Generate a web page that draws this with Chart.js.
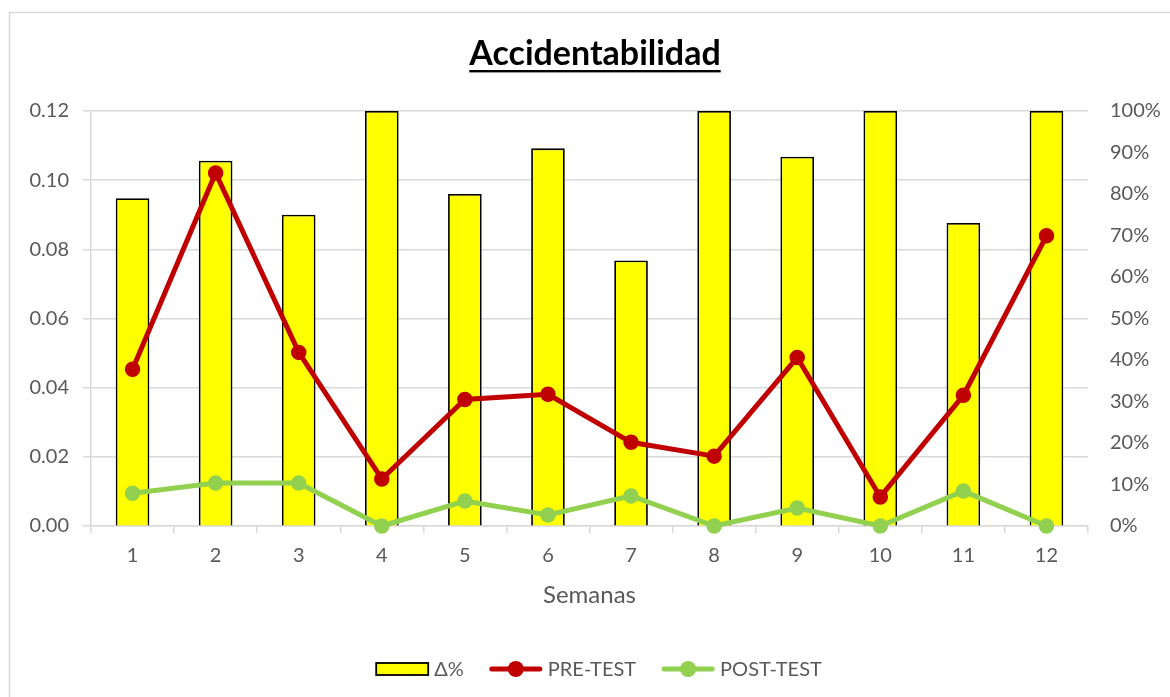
<!DOCTYPE html>
<html>
<head>
<meta charset="utf-8">
<script src="https://cdn.jsdelivr.net/npm/chart.js@4.4.1/dist/chart.umd.min.js"></script>
<style>
  html, body { margin: 0; padding: 0; background: #fff; }
  #wrap { width: 1170px; height: 697px; }
</style>
</head>
<body>
<div id="wrap"><canvas id="chart" width="1170" height="697"></canvas></div>
<script>
const weeks = ["1", "2", "3", "4", "5", "6", "7", "8", "9", "10", "11", "12"];
const deltaPct = [0.79, 0.88, 0.75, 1.0, 0.80, 0.91, 0.64, 1.0, 0.89, 1.0, 0.73, 1.0];
const preTest = [0.0453, 0.1021, 0.0502, 0.0136, 0.0366, 0.0381, 0.0242, 0.0202, 0.0487, 0.0084, 0.0378, 0.0839];
const postTest = [0.0095, 0.0124, 0.0124, 0, 0.0072, 0.0032, 0.0087, 0, 0.0052, 0, 0.0101, 0];

const FONT = "Lato, 'Open Sans', sans-serif";
const TEXT = "#595959";
const GRID = "#D9D9D9";

// frame, underlined title and the Excel-style legend
const decor = {
  id: "decor",
  beforeDraw(chart) {
    const ctx = chart.ctx;
    ctx.save();
    ctx.fillStyle = "#fff";
    ctx.fillRect(0, 0, chart.width, chart.height);
    ctx.strokeStyle = GRID;
    ctx.lineWidth = 1.5;
    ctx.strokeRect(9.5, 12.5, 1300, 800);
    ctx.restore();
  },
  afterDraw(chart) {
    const ctx = chart.ctx;
    ctx.save();
    // title
    ctx.font = "bold 34px " + FONT;
    ctx.fillStyle = "#000";
    ctx.textAlign = "center";
    ctx.textBaseline = "alphabetic";
    const title = "Accidentabilidad";
    const tw = ctx.measureText(title).width;
    const cx = 595;
    ctx.fillText(title, cx, 65);
    ctx.fillRect(cx - tw / 2, 70, tw, 2.4);

    // legend
    const ds = chart.data.datasets;
    ctx.font = "20px " + FONT;
    ctx.textAlign = "left";
    ctx.textBaseline = "middle";
    const y = 669;
    const sym = 52, gapTxt = 6, gapItem = 26;
    let total = 0;
    ds.forEach((d, i) => {
      total += sym + gapTxt + ctx.measureText(d.label).width;
      if (i < ds.length - 1) total += gapItem;
    });
    let x = 599 - total / 2;
    ds.forEach((d) => {
      if (d.type === "bar") {
        ctx.fillStyle = d.backgroundColor;
        ctx.fillRect(x, y - 6, sym, 12);
        ctx.strokeStyle = d.borderColor;
        ctx.lineWidth = 1.8;
        ctx.strokeRect(x, y - 6, sym, 12);
      } else {
        ctx.strokeStyle = d.borderColor;
        ctx.lineWidth = 5;
        ctx.lineCap = "round";
        ctx.beginPath();
        ctx.moveTo(x + 2, y);
        ctx.lineTo(x + sym - 2, y);
        ctx.stroke();
        ctx.fillStyle = d.borderColor;
        ctx.beginPath();
        ctx.arc(x + sym / 2, y, 8, 0, Math.PI * 2);
        ctx.fill();
      }
      x += sym + gapTxt;
      ctx.fillStyle = TEXT;
      ctx.fillText(d.label, x, y + 1);
      x += ctx.measureText(d.label).width + gapItem;
    });
    ctx.restore();
  },
};

new Chart(document.getElementById("chart"), {
  data: {
    labels: weeks,
    datasets: [
      {
        type: "bar",
        label: "Δ%",
        data: deltaPct,
        yAxisID: "y1",
        backgroundColor: "#FFFF00",
        borderColor: "#000000",
        borderWidth: 1.8,
        barPercentage: 0.5,
        categoryPercentage: 0.81,
        order: 3,
      },
      {
        type: "line",
        label: "PRE-TEST",
        data: preTest,
        yAxisID: "y",
        borderColor: "#C00000",
        backgroundColor: "#C00000",
        borderWidth: 5,
        pointRadius: 7,
        pointBorderWidth: 1.5,
        pointBackgroundColor: "#C00000",
        tension: 0,
        clip: false,
        order: 1,
      },
      {
        type: "line",
        label: "POST-TEST",
        data: postTest,
        yAxisID: "y",
        borderColor: "#92D050",
        backgroundColor: "#92D050",
        borderWidth: 5,
        pointRadius: 7,
        pointBorderWidth: 1.5,
        pointBackgroundColor: "#92D050",
        tension: 0,
        clip: false,
        order: 2,
      },
    ],
  },
  options: {
    responsive: false,
    animation: false,
    layout: { padding: { top: 111, left: 0, right: 0, bottom: 87 } },
    plugins: {
      legend: { display: false },
      title: { display: false },
      tooltip: { enabled: false },
    },
    scales: {
      x: {
        offset: true,
        grid: {
          offset: true,
          drawOnChartArea: false,
          drawTicks: true,
          tickLength: 7,
          color: GRID,
          lineWidth: 1.5,
        },
        border: { color: GRID, width: 1.5 },
        ticks: { color: TEXT, font: { family: FONT, size: 20 }, padding: 11 },
        title: {
          display: true,
          text: "Semanas",
          color: TEXT,
          font: { family: FONT, size: 24 },
          padding: 0,
        },
        afterFit(scale) { scale.height = 84; },
      },
      y: {
        position: "left",
        min: 0,
        max: 0.12,
        ticks: {
          stepSize: 0.02,
          color: TEXT,
          font: { family: FONT, size: 20 },
          padding: 14,
          callback: (v) => v.toFixed(2),
        },
        grid: { color: GRID, lineWidth: 1.5, tickLength: 8 },
        border: { color: GRID, width: 1.5 },
        afterFit(scale) { scale.width = 91; },
      },
      y1: {
        position: "right",
        min: 0,
        max: 1,
        ticks: {
          stepSize: 0.1,
          color: TEXT,
          font: { family: FONT, size: 20 },
          padding: 22,
          callback: (v) => Math.round(v * 100) + "%",
        },
        grid: { drawOnChartArea: false, drawTicks: false },
        border: { display: false },
        afterFit(scale) { scale.width = 82; },
      },
    },
  },
  plugins: [decor],
});
</script>
</body>
</html>
